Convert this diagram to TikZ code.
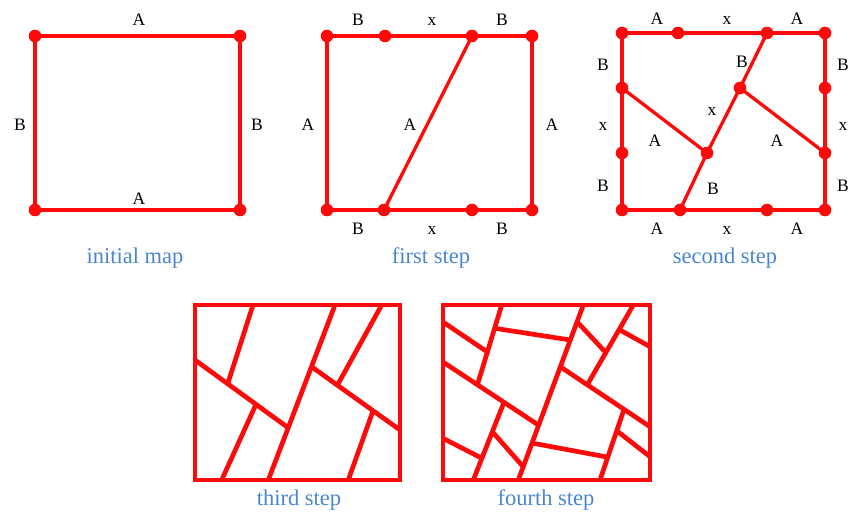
\documentclass[tikz,border=0pt]{standalone}
\usepackage{fontspec}
\setmainfont{Liberation Serif}
\usetikzlibrary{positioning}
\definecolor{mapred}{HTML}{FF0A0A}
\definecolor{capblue}{HTML}{4A86D0}

\begin{document}
\begin{tikzpicture}[x=1pt,y=-1pt,
    edge/.style={draw=mapred,line width=3.3pt},
    wall/.style={draw=mapred,line width=4.7pt},
    lab/.style={inner sep=0pt,font=\fontsize{17.5}{17.5}\selectfont},
    steptitle/.style={inner sep=0pt,text=capblue,font=\fontsize{22.5}{22.5}\selectfont}]
  \useasboundingbox (0,0) rectangle (853,518);
  % initial map
  \coordinate (p1a) at (35,36);  \coordinate (p1b) at (240,36);
  \coordinate (p1c) at (240,210); \coordinate (p1d) at (35,210);
  \draw[edge] (p1a) -- (p1b) -- (p1c) -- (p1d) -- cycle;
  \foreach \p in {p1a,p1b,p1c,p1d}
    {\fill[mapred] (\p) circle (6.3pt);}
  \node[lab] (l1t) at (139,20) {A};
  \node[lab] (l1b) at (139,199) {A};
  \node[lab] (l1l) at (20,125) {B};
  \node[lab] (l1r) at (257,125) {B};
  \node[steptitle] (c1) at (135,258) {initial map};
  % first step
  \coordinate (p2a) at (327,36);  \coordinate (p2b) at (532,36);
  \coordinate (p2c) at (532,210); \coordinate (p2d) at (327,210);
  \coordinate (p2t1) at (385,36); \coordinate (p2t2) at (472,36);
  \coordinate (p2u1) at (384,210); \coordinate (p2u2) at (472,210);
  \draw[edge] (p2a) -- (p2b) -- (p2c) -- (p2d) -- cycle;
  \draw[edge] (p2t2) -- (p2u1);
  \foreach \p in {p2a,p2b,p2c,p2d,p2t1,p2t2,p2u1,p2u2}
    {\fill[mapred] (\p) circle (6.3pt);}
  \node[lab] (l2t1) at (358,20) {B};
  \node[lab] (l2t2) at (432,21) {x};
  \node[lab] (l2t3) at (502,20) {B};
  \node[lab] (l2l) at (308,125) {A};
  \node[lab] (l2m) at (410,125) {A};
  \node[lab] (l2r) at (552,125) {A};
  \node[lab] (l2b1) at (358,229) {B};
  \node[lab] (l2b2) at (432,230) {x};
  \node[lab] (l2b3) at (502,229) {B};
  \node[steptitle] (c2) at (431,258) {first step};
  % second step
  \coordinate (p3a) at (622,33);  \coordinate (p3b) at (825,33);
  \coordinate (p3c) at (825,210); \coordinate (p3d) at (622,210);
  \coordinate (p3t1) at (678,33); \coordinate (p3t2) at (767,33);
  \coordinate (p3l1) at (622,88); \coordinate (p3l2) at (622,153);
  \coordinate (p3r1) at (825,88); \coordinate (p3r2) at (825,153);
  \coordinate (p3u1) at (680,210); \coordinate (p3u2) at (767,210);
  \coordinate (p3i1) at (740,88); \coordinate (p3i2) at (707,153);
  \draw[edge] (p3a) -- (p3b) -- (p3c) -- (p3d) -- cycle;
  \draw[edge] (p3t2) -- (p3i1) -- (p3i2) -- (p3u1);
  \draw[edge] (p3l1) -- (p3i2);
  \draw[edge] (p3i1) -- (p3r2);
  \foreach \p in {p3a,p3b,p3c,p3d,p3t1,p3t2,p3l1,p3l2,p3r1,p3r2,p3u1,p3u2,p3i1,p3i2}
    {\fill[mapred] (\p) circle (6.3pt);}
  \node[lab] (l3t1) at (657,19) {A};
  \node[lab] (l3t2) at (727,20) {x};
  \node[lab] (l3t3) at (797,19) {A};
  \node[lab] (l3l1) at (603,65) {B};
  \node[lab] (l3l2) at (603,126) {x};
  \node[lab] (l3l3) at (603,186) {B};
  \node[lab] (l3r1) at (843,65) {B};
  \node[lab] (l3r2) at (843,126) {x};
  \node[lab] (l3r3) at (843,186) {B};
  \node[lab] (l3i1) at (742,62) {B};
  \node[lab] (l3i2) at (712,111) {x};
  \node[lab] (l3i3) at (655,141) {A};
  \node[lab] (l3i4) at (777,141) {A};
  \node[lab] (l3i5) at (713,189) {B};
  \node[lab] (l3b1) at (657,229) {A};
  \node[lab] (l3b2) at (727,230) {x};
  \node[lab] (l3b3) at (797,229) {A};
  \node[steptitle] (c3) at (725,258) {second step};
  % third step
  \draw[wall] (195,305) rectangle (400,480);
  \draw[wall] (253,305) -- (227.7,383.8);
  \draw[wall] (195,360) -- (288.2,427.8);
  \draw[wall] (256,404.3) -- (221.7,480);
  \draw[wall] (335,305) -- (268.3,480);
  \draw[wall] (311.5,366.7) -- (400,430);
  \draw[wall] (381.7,305) -- (337.2,385.5);
  \draw[wall] (372.8,411.4) -- (348.3,480);
  \node[steptitle] (c4) at (299,500) {third step};
  % fourth step
  \draw[wall] (443,305) rectangle (650,480);
  \draw[wall] (443,322) -- (487.4,352);
  \draw[wall] (501.7,305) -- (477.3,385.1);
  \draw[wall] (494.7,328.3) -- (570.3,340);
  \draw[wall] (443,362) -- (538.3,425);
  \draw[wall] (503.7,403) -- (473.3,480);
  \draw[wall] (492.3,431.7) -- (522.8,466.3);
  \draw[wall] (443,438.3) -- (481.3,458);
  \draw[wall] (583.3,305) -- (518.3,480);
  \draw[wall] (577,321.7) -- (605,351.7);
  \draw[wall] (633.3,305) -- (587.9,383.7);
  \draw[wall] (619.2,329.6) -- (650,346.7);
  \draw[wall] (560.2,366.7) -- (650,426.7);
  \draw[wall] (624.3,408.5) -- (600,480);
  \draw[wall] (531.6,443) -- (607.4,457.1);
  \draw[wall] (616.7,430.7) -- (650,456.7);
  \node[steptitle] (c5) at (546,500) {fourth step};
\end{tikzpicture}
\end{document}
